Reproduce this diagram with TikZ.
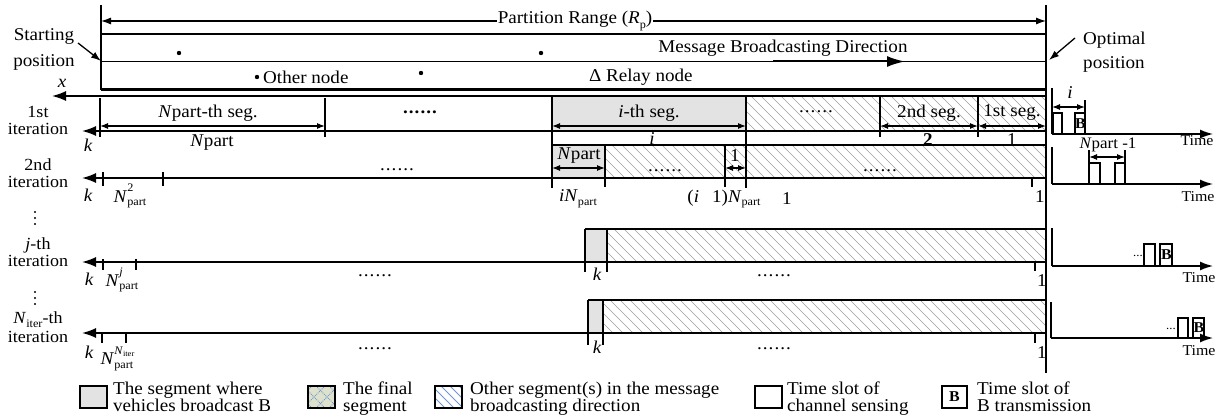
\documentclass[tikz,border=0pt]{standalone}
\usepackage{fontspec}
\setmainfont{Liberation Serif}[FakeStretch=1.06]
\usetikzlibrary{arrows.meta}

\definecolor{segfill}{gray}{0.89}
\definecolor{hatchgray}{gray}{0.62}
\definecolor{legblue}{RGB}{110,150,215}
\definecolor{finalfill}{RGB}{222,226,204}

\newcommand\smallsz{\fontsize{11.5}{11.5}\selectfont}
\newcommand\tinysz{\fontsize{8}{8}\selectfont}
\newcommand\sub[1]{\raisebox{-0.25em}{\smallsz #1}}
\newcommand\NP[1]{\textit{N}\rlap{\raisebox{0.58em}{\smallsz #1}}\raisebox{-0.2em}{\smallsz part}}
\newcommand\sixdots{.\kern1pt.\kern1pt.\kern1pt.\kern1pt.\kern1pt.}

% diagonal hatching of a rectangle (x1,y1)-(x2,y2)
\newcommand\hatchbox[4]{%
  \begin{scope}
    \clip (#1,#2) rectangle (#3,#4);
    \pgfmathsetmacro\hatchh{#4-#2}%
    \pgfmathsetmacro\hatchs{#1-\hatchh}%
    \pgfmathsetmacro\hatcht{\hatchs+10}%
    \foreach \hx in {\hatchs,\hatcht,...,#3}
      \draw[hatchline] (\hx,#2) -- ++(\hatchh,\hatchh);
  \end{scope}}

\tikzset{
  lab/.style={inner sep=0pt, font=\fontsize{18}{18}\selectfont},
  tlab/.style={inner sep=0pt, font=\fontsize{15}{15}\selectfont},
  rowlab/.style={inner sep=0pt, align=center, font=\fontsize{17}{16.5}\selectfont},
  road/.style={line width=2.4pt},
  tick/.style={line width=1.8pt},
  thinl/.style={line width=1.2pt},
  axisl/.style={line width=1.6pt, -{Latex[length=14pt,width=10pt]}},
  timeax/.style={line width=1.5pt, -{Latex[length=13pt,width=9pt]}},
  dimarr/.style={line width=1.1pt, {Latex[length=8pt,width=6pt]}-{Latex[length=8pt,width=6pt]}},
  ptr/.style={line width=1.3pt, -{Latex[length=10pt,width=7pt]}},
  hatchline/.style={hatchgray, line width=0.6pt},
  slot/.style={line width=1.1pt},
  legbox/.style={line width=1.3pt},
  bslot/.style={inner sep=0pt, font=\bfseries\fontsize{15}{15}\selectfont},
  ital/.style={inner sep=0pt, font=\itshape\fontsize{18}{18}\selectfont},
}

\begin{document}
\begin{tikzpicture}[x=1pt,y=-1pt]
\useasboundingbox (0,0) rectangle (1223,420);

% ---------- segment fills ----------
\fill[segfill] (552,96) rectangle (746,131);
\hatchbox{746}{96}{1046}{131}
\fill[segfill] (552,145) rectangle (605,178);
\hatchbox{605}{145}{1046}{178}
\fill[segfill] (585,229) rectangle (607,262);
\hatchbox{607}{229}{1046}{262}
\fill[segfill] (588,300) rectangle (603,333);
\hatchbox{603}{300}{1046}{333}

% ---------- road ----------
\draw[road] (101,5) -- (101,90);
\draw[road] (1046,5) -- (1046,373);
\draw[dimarr, {Latex[length=10pt,width=7pt]}-{Latex[length=10pt,width=7pt]}] (101,21) -- (1046,21);
\node[lab, fill=white, inner xsep=1pt, inner ysep=2pt] (range) at (575,21) {Partition Range (\textit{R}\sub{p})};
\draw[road] (101,34) -- (1046,34);
\draw[line width=1.1pt] (101,61.5) -- (1046,61.5);
\draw[road] (101,89.5) -- (1046,89.5);

\fill (179,53) circle (2.2);
\fill (541,53) circle (2.2);
\fill (421,73) circle (2.2);
\fill (257,77) circle (2.2);
\node[lab, anchor=west] (other) at (263,77) {Other node};
\node[lab, anchor=west] (relay) at (589,77) {Δ Relay node};
\node[lab] (msg) at (783,48) {Message Broadcasting Direction};
\draw[line width=2pt, -{Latex[length=18pt,width=11pt]}] (773,61.5) -- (905,61.5);

\node[lab, align=center, font=\fontsize{18}{26}\selectfont] (start) at (44,49.5) {Starting\\position};
\coordinate (startpt) at (101,61);
\draw[ptr] (78,43) -- (startpt);
\node[lab, align=left, anchor=north west, font=\fontsize{18}{24}\selectfont] (opt) at (1083,31.5) {Optimal\\position};
\coordinate (optpt) at (1049,60);
\draw[ptr] (1075,38) -- (optpt);

\node[ital] (xl) at (62,83) {x};
\draw[axisl] (1046,96) -- (52,96);

% ---------- row labels ----------
\node[rowlab] (r1) at (38,120.5) {1st\\iteration};
\node[rowlab] (r2) at (38,173) {2nd\\iteration};
\node[rowlab] (r3) at (38,252) {\textit{j}-th\\iteration};
\node[rowlab, font=\fontsize{17}{19}\selectfont] (r4) at (38,327) {\textit{N}\sub{iter}-th\\iteration};
% vertical ellipses between the rows
\foreach \vy in {212,218,224,292,298,304}
  \fill (35,\vy) circle (1.1);

% ---------- 1st iteration ----------
\draw[axisl] (1046,131) -- (82,131);
\draw[tick] (100,98) -- (100,137);
\draw[tick] (325,98) -- (325,137);
\draw[line width=2pt] (552,96) -- (552,188);
\draw[line width=2pt] (746,96) -- (746,188);
\draw[thinl] (880,97) -- (880,137);
\draw[thinl] (978,97) -- (978,137);
\draw[dimarr] (100,126) -- (325,126);
\draw[dimarr] (552,126) -- (746,126);
\draw[dimarr] (880,126) -- (978,126);
\draw[dimarr] (978,126) -- (1046,126);
\node[lab] (s1) at (208,113) {\textit{N}part-th seg.};
\node[lab] (s2) at (420,112) {\textbf{\sixdots}};
\node[lab] (s3) at (649,113) {\textit{i}-th seg.};
\node[lab] (s4) at (816,112) {\sixdots};
\node[lab] (s5) at (929,113) {2nd seg.};
\node[lab] (s6) at (1012,113) {1st seg.};
\node[ital] (k1) at (88,145) {k};
\node[lab] (n1) at (212,143) {\textit{N}part};
\node[ital] (i1) at (652,139) {i};
\node[lab, font=\bfseries\fontsize{18}{18}\selectfont] (two) at (928,140) {2};
\node[lab] (one) at (1012,140) {1};

% ---------- 2nd iteration ----------
\draw[axisl] (1046,178) -- (82,178);
\draw[thinl] (552,145) -- (1046,145);
\draw[thinl] (605,145) -- (605,187);
\draw[thinl] (725,145) -- (725,187);
\draw[tick] (103,172) -- (103,186);
\draw[tick] (163,172) -- (163,186);
\draw[tick] (1032,178) -- (1032,187);
\draw[dimarr] (552,168) -- (605,168);
\draw[dimarr] (725,168) -- (746,168);
\node[lab] (np2) at (579,156) {\textit{N}part};
\node[lab] (o2) at (735,156) {1};
\node[lab] (d2a) at (397,170) {\sixdots};
\node[lab] (d2b) at (665,171) {\sixdots};
\node[lab] (d2c) at (880,171) {\sixdots};
\node[ital] (k2) at (88,195) {k};
\node[lab] (nn2) at (130,196) {\NP{2}};
\node[lab] (in2) at (578,199) {\textit{i}\NP{}};
\node[lab] (im2) at (724,199) {(\textit{i}\hspace{13pt}1)\NP{}};
\node[lab] (o2b) at (787,199) {1};
\node[lab] (o2c) at (1040,197) {1};

% ---------- j-th iteration ----------
\draw[axisl] (1046,262) -- (82,262);
\draw[thinl] (585,229) -- (1046,229);
\draw[line width=1.6pt] (585,229) -- (585,272);
\draw[line width=1.6pt] (607,229) -- (607,272);
\draw[tick] (103,259) -- (103,270);
\draw[tick] (136,259) -- (136,270);
\draw[tick] (1035,262) -- (1035,271);
\node[ital] (k3) at (89,279) {k};
\node[lab] (nn3) at (122,280) {\NP{\textit{j}}};
\node[lab] (d3a) at (375,276) {\sixdots};
\node[lab] (d3b) at (774,276) {\sixdots};
\node[ital] (k3b) at (597,274) {k};
\node[lab] (o3) at (1042,281) {1};

% ---------- N_iter-th iteration ----------
\draw[axisl] (1046,333) -- (82,333);
\draw[thinl] (588,300) -- (1046,300);
\draw[line width=1.6pt] (588,300) -- (588,345);
\draw[line width=1.6pt] (603,300) -- (603,345);
\draw[tick] (102,333) -- (102,343);
\draw[tick] (126,333) -- (126,343);
\draw[tick] (1035,333) -- (1035,343);
\node[ital] (k4) at (89,352) {k};
\node[lab] (nn4) at (117,359) {\NP{\textit{N}\raisebox{-0.2em}{\tinysz iter}}};
\node[lab] (d4a) at (375,349) {\sixdots};
\node[lab] (d4b) at (774,349) {\sixdots};
\node[ital] (k4b) at (597,347) {k};
\node[lab] (o4) at (1042,353) {1};

% ---------- time axes ----------
% 1st iteration
\draw[thinl] (1052,88) -- (1052,134);
\draw[timeax] (1052,134) -- (1213,134);
\draw[slot] (1053,113) rectangle (1062,134);
\draw[slot] (1075,113) rectangle (1085,134);
\node[bslot] (b1) at (1080.5,124) {B};
\draw[thinl] (1085,100) -- (1085,113);
\draw[dimarr] (1052,107) -- (1085,107);
\node[ital] (ti) at (1070,93) {i};
\node[tlab] (tm1) at (1197,141) {Time};
% 2nd iteration
\draw[thinl] (1052,147) -- (1052,184);
\draw[timeax] (1052,184) -- (1213,184);
\draw[slot] (1089,163) rectangle (1100,184);
\draw[slot] (1115,163) rectangle (1125,184);
\draw[thinl] (1089,150) -- (1089,163);
\draw[thinl] (1125,150) -- (1125,163);
\draw[dimarr] (1089,157) -- (1125,157);
\node[tlab, font=\fontsize{16}{16}\selectfont] (tn) at (1108,145) {\textit{N}part -1};
\node[tlab] (tm2) at (1198,197) {Time};
% j-th iteration
\draw[thinl] (1052,228) -- (1052,266);
\draw[timeax] (1052,266) -- (1213,266);
\draw[slot] (1144,244) rectangle (1155,266);
\draw[slot] (1160,244) rectangle (1172,266);
\node[bslot] (b3) at (1166.5,255) {B};
\node[tlab, font=\fontsize{12}{12}\selectfont] (e3) at (1138,256) {...};
\node[tlab] (tm3) at (1199,278) {Time};
% N_iter-th iteration
\draw[thinl] (1051,302) -- (1051,338);
\draw[timeax] (1051,338) -- (1213,338);
\draw[slot] (1178,318) rectangle (1188,338);
\draw[slot] (1193,318) rectangle (1204,338);
\node[bslot] (b4) at (1199,328) {B};
\node[tlab, font=\fontsize{12}{12}\selectfont] (e4) at (1171,329) {...};
\node[tlab] (tm4) at (1199,351) {Time};

% ---------- legend ----------
\fill[segfill] (80,386) rectangle (107,408);
\draw[legbox] (80,386) rectangle (107,408);
\node[lab, align=left, anchor=north west, font=\fontsize{18}{17}\selectfont] (lg1) at (113,382) {The segment where\\vehicles broadcast B};

\fill[finalfill] (308,386) rectangle (335,408);
\begin{scope}
  \clip (308,386) rectangle (335,408);
  \foreach \hx in {290,303,...,340} {
    \draw[legblue, line width=0.9pt, densely dotted] (\hx,386) -- ++(22,22);
    \draw[legblue, line width=0.9pt, densely dotted] (\hx,408) -- ++(22,-22);
  }
\end{scope}
\draw[legbox] (308,386) rectangle (335,408);
\node[lab, align=left, anchor=north west, font=\fontsize{18}{17}\selectfont] (lg2) at (343,382) {The final\\segment};

\begin{scope}
  \clip (435,386) rectangle (462,408);
  \foreach \hx in {414,423,...,465}
    \draw[legblue, line width=1pt] (\hx,386) -- ++(22,22);
\end{scope}
\draw[legbox] (435,386) rectangle (462,408);
\node[lab, align=left, anchor=north west, font=\fontsize{18}{17}\selectfont] (lg3) at (470,382) {Other segment(s) in the message\\broadcasting direction};

\draw[legbox] (755,386) rectangle (782,408);
\node[lab, align=left, anchor=north west, font=\fontsize{18}{17}\selectfont] (lg4) at (787,382) {Time slot of\\channel sensing};

\draw[legbox] (942,386) rectangle (967,408);
\node[bslot] (lgb) at (954.5,397) {B};
\node[lab, align=left, anchor=north west, font=\fontsize{18}{17}\selectfont] (lg5) at (977,382) {Time slot of\\B transmission};
\end{tikzpicture}
\end{document}
